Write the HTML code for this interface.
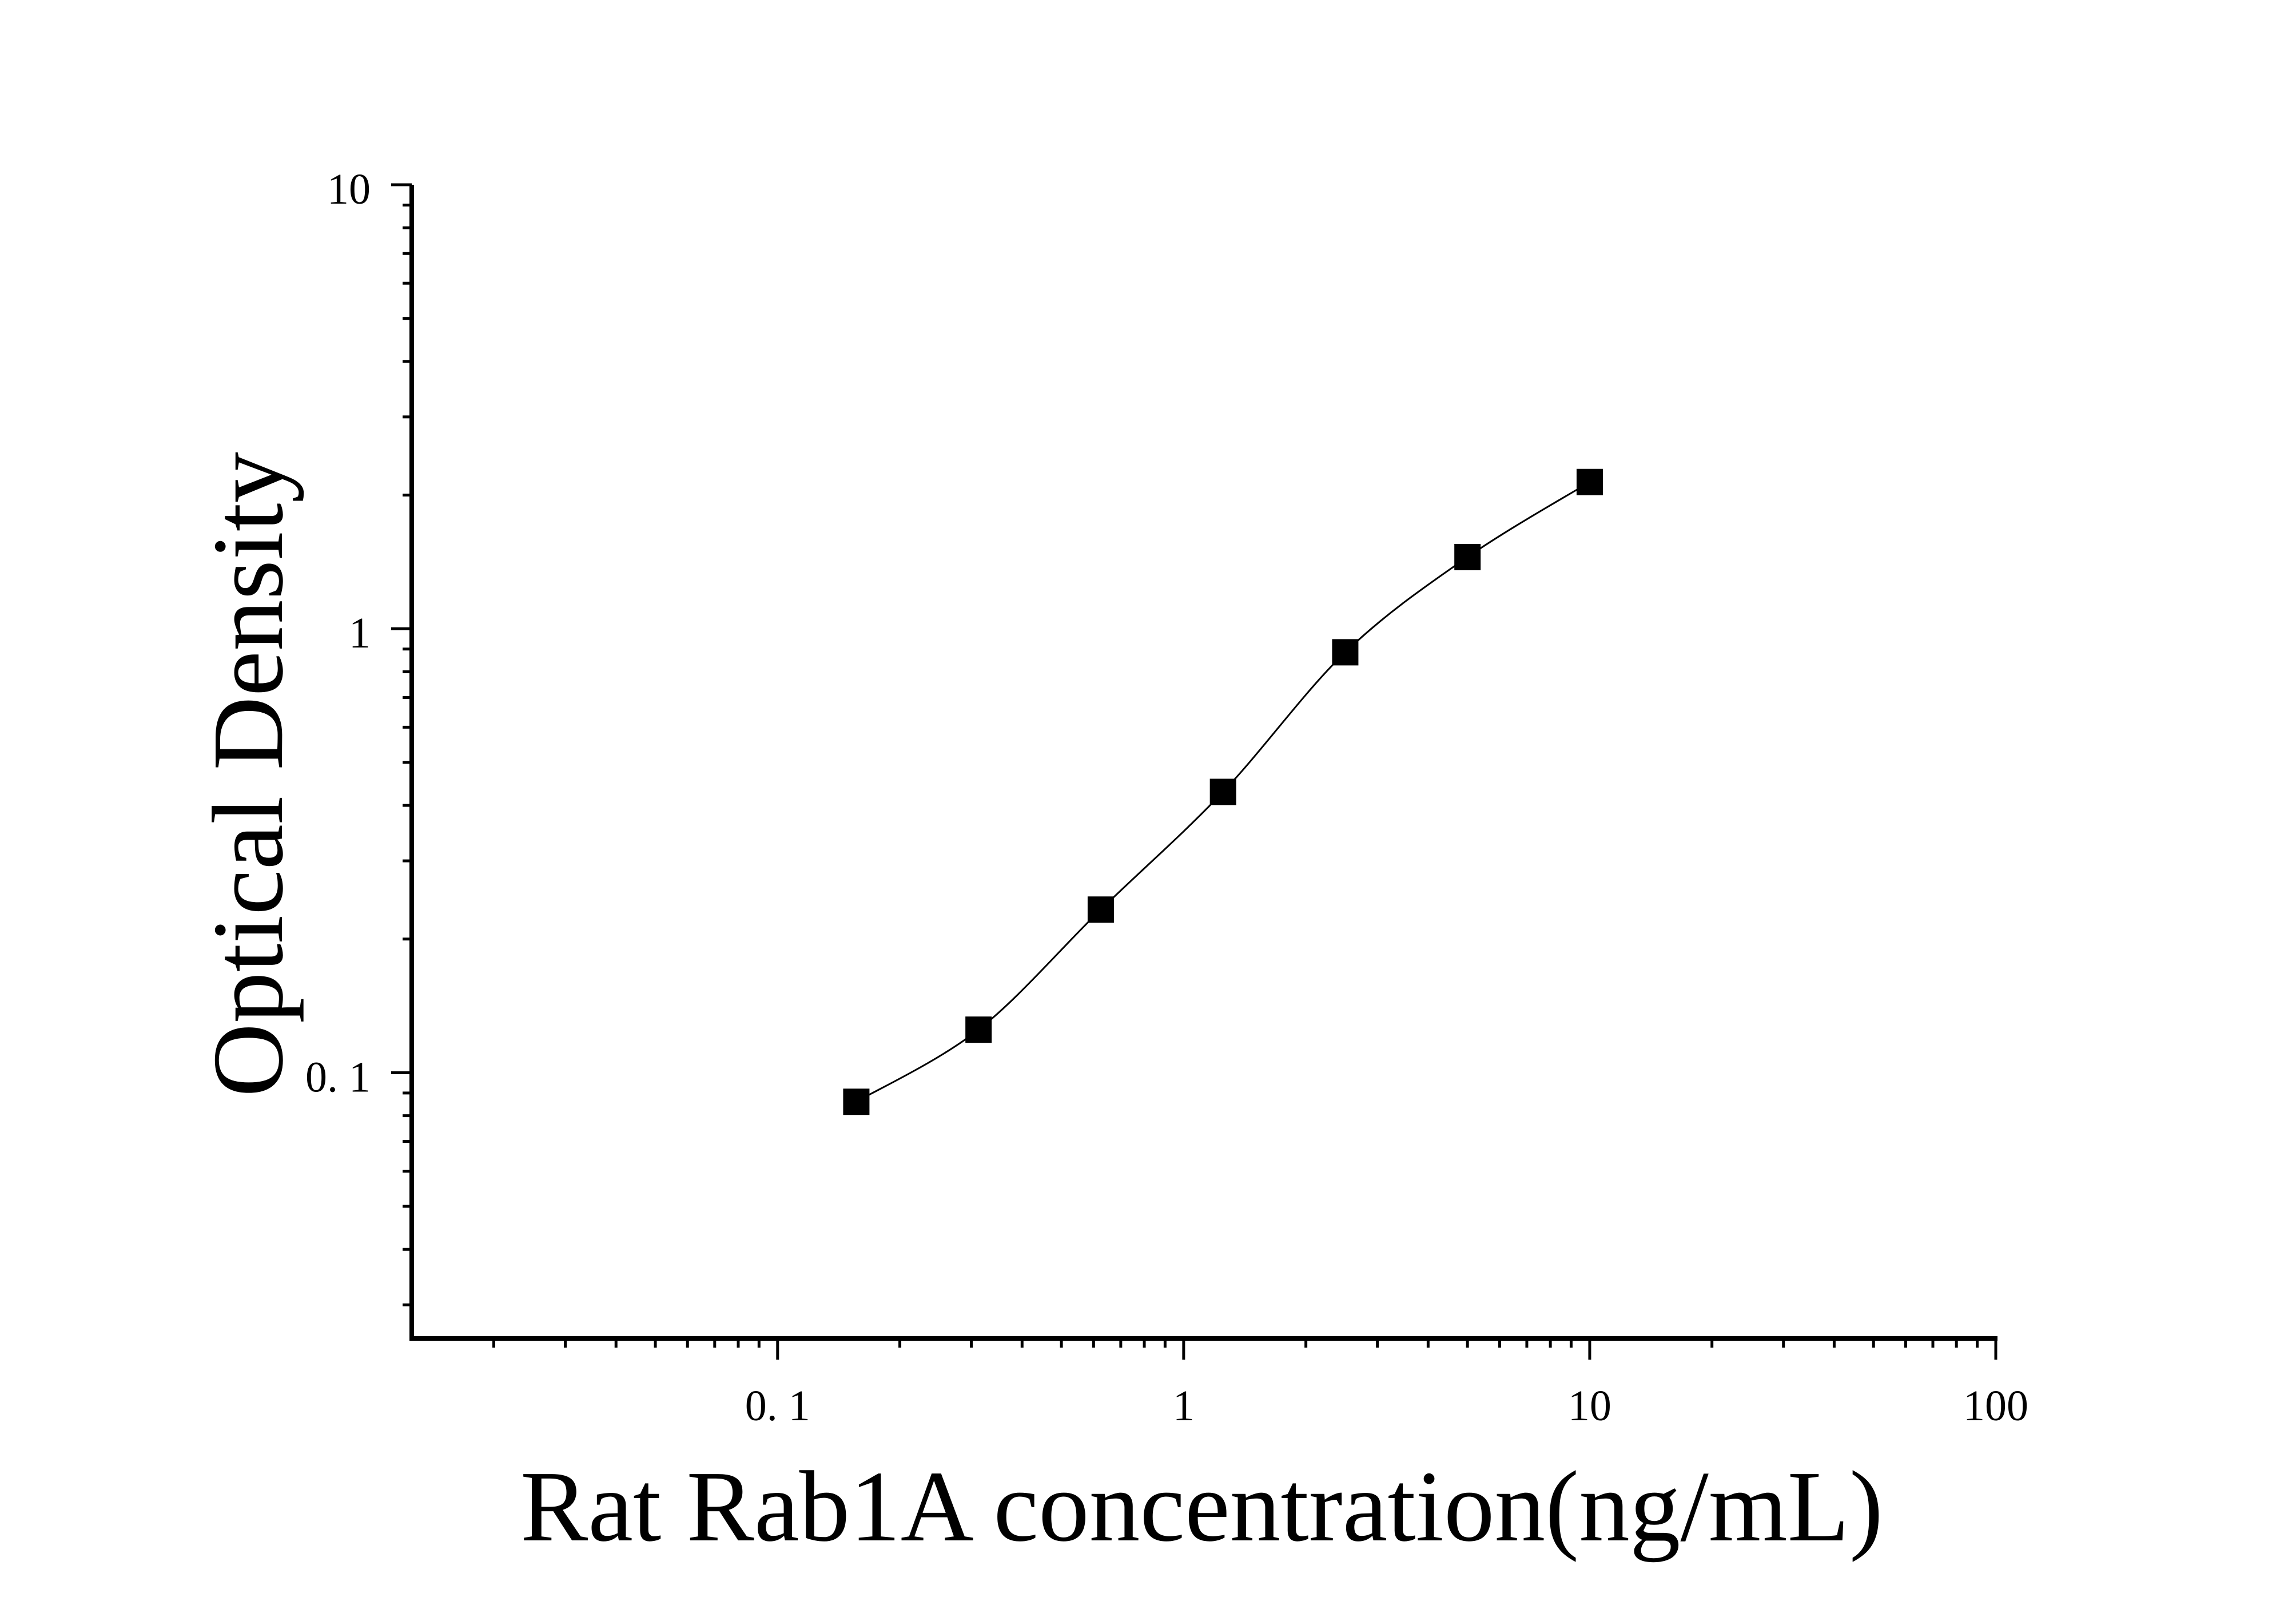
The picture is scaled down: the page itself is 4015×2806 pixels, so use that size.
<!DOCTYPE html>
<html><head><meta charset="utf-8"><style>
html,body{margin:0;padding:0;background:#fff;}
svg{display:block;}
text{font-family:"Liberation Serif","Noto Serif CJK SC",serif;fill:#000;}
</style></head><body>
<svg id="chart" width="4015" height="2806" viewBox="0 0 4015 2806" xmlns="http://www.w3.org/2000/svg">
<rect width="4015" height="2806" fill="#fff"/>
<g id="axes"></g>
<g id="curve"></g>
<g id="points"></g>
<text x="910" y="2693" font-size="177" textLength="2383" lengthAdjust="spacingAndGlyphs">Rat Rab1A concentration(ng/mL)</text>
<text transform="translate(493,1918) rotate(-90)" font-size="177" textLength="1128" lengthAdjust="spacingAndGlyphs">Optical Density</text>
</svg>
<script>
const concentrations = [0.15625, 0.3125, 0.625, 1.25, 2.5, 5, 10];
const odValues = [0.086, 0.125, 0.233, 0.429, 0.885, 1.45, 2.14];
const xTickValues = [0.1, 1, 10, 100];
const xTickLabels = ["0. 1", "1", "10", "100"];
const yTickValues = [0.1, 1, 10];
const yTickLabels = ["0. 1", "1", "10"];

const NS = "http://www.w3.org/2000/svg";
const X0 = 720, X1 = 3490, XMIN = Math.log10(0.01256), XMAX = 2;
const Y0 = 2340, Y1 = 323, YMIN = Math.log10(0.0252), YMAX = 1;
function sx(v){ return X0 + (Math.log10(v) - XMIN) / (XMAX - XMIN) * (X1 - X0); }
function sy(v){ return Y0 - (Math.log10(v) - YMIN) / (YMAX - YMIN) * (Y0 - Y1); }
function mk(tag, attrs, parent){ const e = document.createElementNS(NS, tag); for (const k in attrs) e.setAttribute(k, attrs[k]); parent.appendChild(e); return e; }

const axes = document.getElementById('axes');
let e;
e = mk('line', {x1: X0, y1: Y1, x2: X0, y2: Y0 + 4, stroke: '#000', 'stroke-width': 8}, axes);


e = mk('line', {x1: X0 - 4, y1: Y0, x2: X1 + 3, y2: Y0, stroke: '#000', 'stroke-width': 8}, axes);



// x minor ticks
for (let d = -2; d <= 1; d++) {
  for (let m = 2; m <= 9; m++) {
    const v = m * Math.pow(10, d);
    if (Math.log10(v) < XMIN) continue;
    e = mk('line', {x1: sx(v), y1: Y0, x2: sx(v), y2: Y0 + 16, stroke: '#000', 'stroke-width': 5}, axes);
    
    
  }
}
xTickValues.forEach((v, i) => {
  e = mk('line', {x1: sx(v), y1: Y0, x2: sx(v), y2: Y0 + 37, stroke: '#000', 'stroke-width': 5}, axes);
  
  
  e = mk('text', {x: sx(v), y: 2483, 'font-size': 76, 'text-anchor': 'middle'}, axes);
  e.textContent = xTickLabels[i];
  
  
});
// y minor ticks
for (let d = -2; d <= 0; d++) {
  for (let m = 2; m <= 9; m++) {
    const v = m * Math.pow(10, d);
    if (Math.log10(v) < YMIN) continue;
    e = mk('line', {x1: X0 - 16, y1: sy(v), x2: X0, y2: sy(v), stroke: '#000', 'stroke-width': 5}, axes);
    
    
  }
}
yTickValues.forEach((v, i) => {
  e = mk('line', {x1: X0 - 36, y1: sy(v), x2: X0, y2: sy(v), stroke: '#000', 'stroke-width': 5}, axes);
  
  
  e = mk('text', {x: 648, y: sy(v) + 33, 'font-size': 76, 'text-anchor': 'end'}, axes);
  e.textContent = yTickLabels[i];
  
  
});

// curve: Catmull-Rom through points in pixel space
const pts = concentrations.map((c, i) => [sx(c), sy(odValues[i])]);
let d = 'M' + pts[0][0] + ',' + pts[0][1];
for (let i = 0; i < pts.length - 1; i++) {
  const p0 = pts[Math.max(0, i - 1)], p1 = pts[i], p2 = pts[i + 1], p3 = pts[Math.min(pts.length - 1, i + 2)];
  const c1 = [p1[0] + (p2[0] - p0[0]) / 6, p1[1] + (p2[1] - p0[1]) / 6];
  const c2 = [p2[0] - (p3[0] - p1[0]) / 6, p2[1] - (p3[1] - p1[1]) / 6];
  d += ' C' + c1.join(',') + ' ' + c2.join(',') + ' ' + p2.join(',');
}
e = mk('path', {d: d, fill: 'none', stroke: '#000', 'stroke-width': 3}, document.getElementById('curve'));



const pg = document.getElementById('points');
pts.forEach(p => {
  e = mk('rect', {x: p[0] - 23, y: p[1] - 23, width: 46, height: 46, fill: '#000'}, pg);
  
  
});
</script>
</body></html>
